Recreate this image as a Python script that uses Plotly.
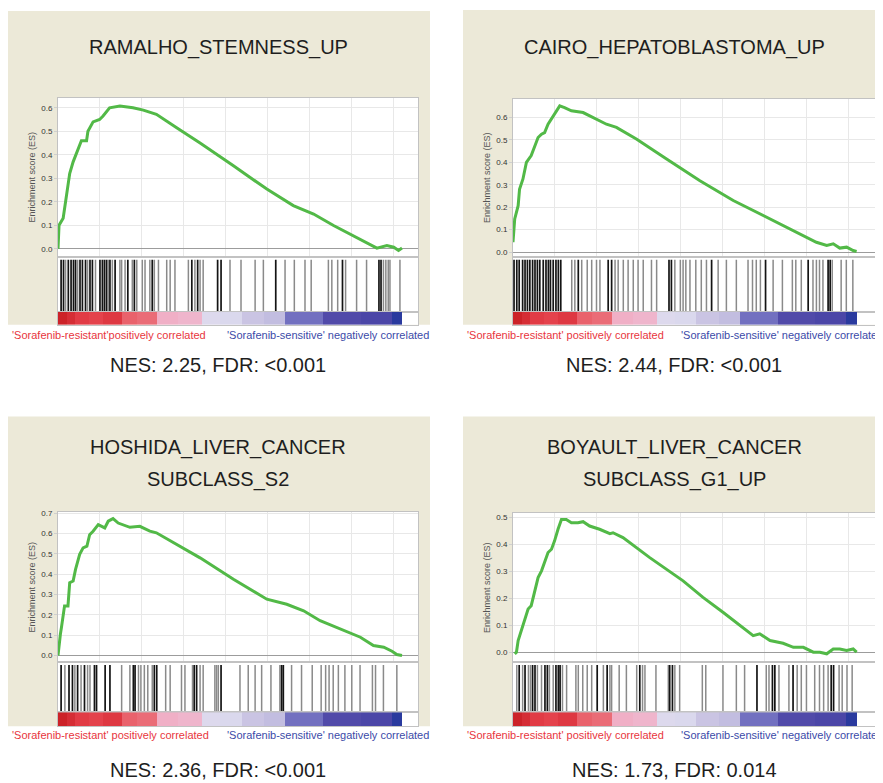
import plotly.graph_objects as go

OFF = 8            # page body margin of the viewing browser
W, H = 883 - OFF, 783 - OFF

# ---------------- data (x = position in ranked gene list, % ) ----------------
TL_x = [0, 0.3, 1.5, 2.4, 3.4, 4.4, 5.8, 6.8, 8.3, 8.7, 10.2, 12.1, 13.1, 15.0, 18.0, 21.8, 24.8,
        28.6, 34.5, 41.3, 51.0, 60.7, 68.4, 74.3, 80.1, 85.9, 90.8, 92.7, 95.6, 97.6, 99.0, 100]
TL_es = [0, 0.10, 0.13, 0.22, 0.32, 0.37, 0.42, 0.46, 0.46, 0.50, 0.54, 0.55, 0.565, 0.60, 0.607, 0.60,
         0.59, 0.572, 0.515, 0.45, 0.353, 0.254, 0.184, 0.148, 0.099, 0.056, 0.017, 0.003, 0.014, 0.007,
         -0.007, 0.003]
TL_hits_dark = [0.9, 1.6, 3.0, 3.8, 4.5, 5.1, 6.4, 7.1, 8.0, 9.3, 10.0, 12.2, 12.9, 13.5, 14.1, 15.1,
                16.6, 20.3, 22.2, 27.4, 38.9, 40.6, 46.4, 47.4, 63.3, 82.7, 93.3, 93.9]
TL_hits_light = [2.2, 5.7, 8.6, 10.9, 14.6, 15.8, 18.0, 18.5, 19.5, 21.6, 22.9, 24.5, 25.3, 26.7, 28.0,
                 29.2, 31.6, 32.6, 34.0, 37.9, 39.8, 41.3, 42.2, 50.0, 53.2, 57.3, 59.7, 66.0, 68.7, 71.8,
                 73.6, 78.6, 79.6, 81.3, 83.6, 86.8, 89.7, 94.6, 95.3, 96.0, 96.5, 99.4]

TR_x = [0, 0.5, 1.5, 1.9, 2.9, 3.9, 5.3, 6.3, 7.3, 8.3, 9.2, 10.2, 11.7, 13.6, 15.0, 17.0, 20.4, 23.3,
        27.2, 30.1, 35.9, 44.7, 54.4, 64.1, 72.8, 77.7, 83.5, 88.3, 91.3, 93.2, 95.1, 97.1, 99.0, 100]
TR_es = [0.044, 0.148, 0.207, 0.28, 0.326, 0.40, 0.43, 0.474, 0.511, 0.526, 0.533, 0.57, 0.607, 0.652,
         0.644, 0.63, 0.622, 0.60, 0.57, 0.556, 0.504, 0.415, 0.318, 0.23, 0.163, 0.126, 0.081, 0.044,
         0.03, 0.037, 0.018, 0.022, 0.007, 0.003]
TR_hits_dark = [0.3, 1.1, 1.8, 2.8, 3.5, 4.2, 4.9, 5.7, 6.4, 7.1, 7.8, 8.8, 9.6, 10.3, 10.9, 11.7, 12.5,
                13.2, 13.9, 19.0, 27.7, 28.7, 45.4, 46.1, 57.8, 73.5, 85.9, 91.7, 92.3]
TR_hits_light = [17.1, 18.0, 20.0, 21.6, 22.9, 24.3, 25.3, 29.7, 30.6, 32.1, 33.5, 35.0, 36.4, 37.9,
                 40.3, 41.8, 47.1, 48.7, 49.5, 50.3, 51.5, 53.2, 54.8, 56.3, 59.7, 62.1, 65.0, 68.4,
                 69.7, 70.8, 72.0, 75.7, 78.4, 81.3, 82.3, 83.9, 87.3, 88.3, 89.2, 90.2, 92.9, 95.5,
                 97.0, 98.9]

BL_x = [0, 0.3, 0.7, 1.0, 1.5, 1.9, 2.4, 2.9, 3.4, 4.4, 5.1, 6.3, 7.3, 8.4, 9.2, 10.2, 11.7, 12.6,
        13.6, 14.6, 16.0, 17.5, 18.9, 20.9, 23.8, 26.7, 28.6, 33.5, 41.3, 51.0, 60.7, 66.5, 71.4,
        76.2, 82.0, 87.9, 91.7, 94.7, 97.1, 98.5, 100]
BL_es = [0, 0.057, 0.106, 0.138, 0.204, 0.244, 0.244, 0.244, 0.358, 0.366, 0.423, 0.497, 0.529, 0.537,
         0.594, 0.611, 0.643, 0.635, 0.627, 0.66, 0.673, 0.651, 0.643, 0.63, 0.635, 0.611, 0.603, 0.554,
         0.48, 0.375, 0.277, 0.252, 0.22, 0.171, 0.13, 0.09, 0.049, 0.041, 0.021, 0.005, 0]
BL_hits_dark = [0.9, 3.2, 4.2, 5.7, 7.7, 10.6, 11.2, 13.7, 15.1, 21.9, 22.4, 28.0, 28.7, 39.6, 40.3,
                47.4, 65.0, 65.5]
BL_hits_light = [2.0, 4.9, 6.7, 8.6, 9.3, 18.5, 20.9, 23.4, 24.1, 25.1, 26.1, 27.4, 31.3, 32.6, 35.9,
                 36.9, 39.1, 41.3, 42.2, 45.6, 46.1, 46.6, 52.9, 55.3, 57.3, 59.2, 61.9, 64.5, 67.9,
                 70.8, 73.9, 76.5, 77.8, 78.8, 80.0, 81.5, 83.4, 85.4, 87.8, 91.4, 92.3, 94.6, 98.5]

BR_x = [0.5, 1.0, 1.5, 2.4, 3.4, 4.4, 5.3, 6.3, 7.3, 8.3, 9.2, 10.2, 11.2, 12.1, 13.1, 14.1, 15.5, 17.0,
        18.9, 20.4, 22.3, 25.2, 28.2, 29.1, 32.0, 39.8, 49.5, 55.3, 61.2, 66.0, 69.9, 71.8, 74.8, 78.6,
        81.6, 84.5, 87.4, 89.3, 91.3, 93.2, 95.1, 97.1, 99.0, 100]
BR_es = [-0.006, 0, 0.043, 0.08, 0.117, 0.16, 0.172, 0.227, 0.276, 0.301, 0.332, 0.369, 0.381, 0.412,
         0.455, 0.491, 0.491, 0.479, 0.479, 0.483, 0.467, 0.455, 0.439, 0.442, 0.424, 0.35, 0.264, 0.203,
         0.147, 0.098, 0.061, 0.068, 0.043, 0.033, 0.018, 0.018, 0, 0, -0.006, 0.012, 0.012, 0.006,
         0.012, 0]
BR_hits_dark = [1.8, 3.5, 5.7, 6.4, 9.3, 10.0, 12.5, 13.2, 13.7, 24.5, 27.4, 36.9, 45.6, 46.4, 71.0,
                75.5, 76.2, 81.5, 92.6, 93.3]
BR_hits_light = [1.1, 2.8, 4.5, 5.1, 7.1, 8.3, 10.6, 11.7, 14.4, 15.6, 18.3, 19.0, 20.3, 21.6, 22.9,
                 26.3, 28.2, 28.7, 30.9, 33.0, 36.0, 37.7, 38.4, 41.6, 45.2, 47.1, 48.5, 55.1, 56.1,
                 61.1, 65.0, 67.4, 73.7, 74.5, 77.4, 80.3, 82.7, 83.9, 85.4, 87.8, 89.2, 90.4, 91.7,
                 94.9, 95.8, 97.2, 98.7]

# ranked list metric (shared ranked list), segment edges in % and metric values
RANK_EDGES = [0, 2.5, 5, 9, 13, 18.5, 23, 28.7, 35, 41.8, 47, 53.4, 60, 66.0, 77.1, 88, 97.0, 100]
RANK_METRIC = [1.0, 0.92, 0.82, 0.78, 0.84, 0.62, 0.58, 0.36, 0.33, 0.06, 0.03, -0.18, -0.22, -0.5,
               -0.74, -0.78, -1.0]

TITLES = [["RAMALHO_STEMNESS_UP"], ["CAIRO_HEPATOBLASTOMA_UP"],
          ["HOSHIDA_LIVER_CANCER", "SUBCLASS_S2"], ["BOYAULT_LIVER_CANCER", "SUBCLASS_G1_UP"]]
NES_TEXT = ["NES: 2.25, FDR: <0.001", "NES: 2.44, FDR: <0.001",
            "NES: 2.36, FDR: <0.001", "NES: 1.73, FDR: 0.014"]
POS_LABELS = ["'Sorafenib-resistant'positively correlated", "'Sorafenib-resistant' positively correlated",
              "'Sorafenib-resistant' positively correlated", "'Sorafenib-resistant' positively correlated"]
NEG_LABEL = "'Sorafenib-sensitive' negatively correlated"

# ---------------- layout geometry (page pixels) ----------------
panels = [
    dict(x=TL_x, es=TL_es, dark=TL_hits_dark, light=TL_hits_light, box=(8, 8, 430, 323),
         left=58, right=418, top=95, es_bot=255, hit_bot=310, cb_bot=323, xmax=104.65,
         yr=[-0.035, 0.643], cx=218, title_y=[45], lab_y=333, red_x=10, blue_x=225, nes_y=363),
    dict(x=TR_x, es=TR_es, dark=TR_hits_dark, light=TR_hits_light, box=(463, 7, 884, 323),
         left=513, right=875, top=96, es_bot=255, hit_bot=310, cb_bot=323, xmax=105.35,
         yr=[-0.022, 0.684], cx=674, title_y=[45], lab_y=333, red_x=465, blue_x=679, nes_y=363),
    dict(x=BL_x, es=BL_es, dark=BL_hits_dark, light=BL_hits_light, box=(8, 415, 430, 726),
         left=58, right=418, top=511, es_bot=662, hit_bot=712, cb_bot=726, xmax=104.65,
         yr=[-0.034, 0.705], cx=218, title_y=[446, 478], lab_y=735, red_x=10, blue_x=225, nes_y=770),
    dict(x=BR_x, es=BR_es, dark=BR_hits_dark, light=BR_hits_light, box=(463, 415, 884, 726),
         left=513, right=875, top=512, es_bot=662, hit_bot=712, cb_bot=726, xmax=105.35,
         yr=[-0.038, 0.515], cx=674, title_y=[446, 478], lab_y=735, red_x=465, blue_x=679, nes_y=770),
]

FONT = "Liberation Sans, Arial, sans-serif"
BEIGE = "#ece9d8"
GREEN = "#52b947"
BORDER = "#c2c2c2"
GRID = "#e8e8e8"

CSCALE = [[0.0, "#2a3a9e"], [0.125, "#5048a8"], [0.25, "#7270c0"], [0.4, "#c8c2e2"],
          [0.525, "#dcdaee"], [0.675, "#f0b2ca"], [0.8, "#ea6670"], [0.9, "#e33e48"], [1.0, "#cc2228"]]


def px(x):
    return (x - OFF) / W


def py(y):
    return 1 - (y - OFF) / H


fig = go.Figure()
layout = dict(width=W, height=H, margin=dict(l=0, r=0, t=0, b=0), showlegend=False,
              paper_bgcolor="white", plot_bgcolor="rgba(0,0,0,0)", font=dict(family=FONT))
shapes, annotations = [], []


def vlines(xs, y0, y1):
    xx, yy = [], []
    for v in xs:
        xx += [v, v, None]
        yy += [y0, y1, None]
    return xx, yy


def ax(n):
    return "" if n == 1 else str(n)


for i, p in enumerate(panels):
    a_es, a_hit, a_cb = 3 * i + 1, 3 * i + 2, 3 * i + 3

    xdom = [px(p["left"]), min(1.0, px(p["right"]))]
    b = p["box"]
    shapes.append(dict(type="rect", xref="paper", yref="paper", x0=px(b[0]), x1=min(1.0, px(b[2])),
                       y0=py(b[3]), y1=py(b[1]), fillcolor=BEIGE, line_width=0, layer="below"))
    shapes.append(dict(type="rect", xref="paper", yref="paper", x0=px(p["left"]), x1=px(p["right"]),
                       y0=py(p["cb_bot"]), y1=py(p["top"]), fillcolor="white", line_width=0, layer="below"))

    common_x = dict(domain=xdom, range=[0, p["xmax"]], showticklabels=False, ticks="", zeroline=False,
                    showline=True, linecolor=BORDER, linewidth=1, mirror=True, fixedrange=True)
    layout["xaxis" + ax(a_es)] = dict(common_x, showgrid=True, gridcolor=GRID, gridwidth=1, tick0=0,
                                      dtick=12.2, anchor="y" + ax(a_es))
    layout["xaxis" + ax(a_hit)] = dict(common_x, showgrid=False, anchor="y" + ax(a_hit))
    layout["xaxis" + ax(a_cb)] = dict(common_x, showgrid=False, anchor="y" + ax(a_cb))

    layout["yaxis" + ax(a_es)] = dict(domain=[py(p["es_bot"]), py(p["top"])], range=p["yr"],
                                      tickmode="linear", tick0=0, dtick=0.1, tickformat=".1f",
                                      tickfont=dict(size=8, color="#333"), ticks="outside", ticklen=3,
                                      tickcolor="#cfcfcf",
                                      showgrid=True, gridcolor=GRID, zeroline=True, zerolinecolor="#9c9c9c",
                                      zerolinewidth=1, showline=True, linecolor=BORDER, mirror=True,
                                      title=dict(text="Enrichment score (ES)", font=dict(size=9, color="#555"),
                                                 standoff=4),
                                      anchor="x" + ax(a_es), fixedrange=True)
    layout["yaxis" + ax(a_hit)] = dict(domain=[py(p["hit_bot"]), py(p["es_bot"])], range=[0, 1],
                                       showticklabels=False, showgrid=False, zeroline=False, ticks="",
                                       showline=True, linecolor=BORDER, mirror=True,
                                       anchor="x" + ax(a_hit), fixedrange=True)
    layout["yaxis" + ax(a_cb)] = dict(domain=[py(p["cb_bot"]), py(p["hit_bot"])], range=[0, 1],
                                      showticklabels=False, showgrid=False, zeroline=False, ticks="",
                                      showline=True, linecolor=BORDER, mirror=True,
                                      anchor="x" + ax(a_cb), fixedrange=True)

    fig.add_trace(go.Scatter(x=p["x"], y=p["es"], mode="lines", line=dict(color=GREEN, width=3),
                             xaxis="x" + ax(a_es), yaxis="y" + ax(a_es), hoverinfo="skip"))
    lx, ly = vlines(p["light"], 0, 0.95)
    fig.add_trace(go.Scatter(x=lx, y=ly, mode="lines", line=dict(color="#8a8a8a", width=1.5),
                             xaxis="x" + ax(a_hit), yaxis="y" + ax(a_hit), hoverinfo="skip"))
    dx, dy = vlines(p["dark"], 0, 0.95)
    fig.add_trace(go.Scatter(x=dx, y=dy, mode="lines", line=dict(color="#141414", width=1.7),
                             xaxis="x" + ax(a_hit), yaxis="y" + ax(a_hit), hoverinfo="skip"))
    fig.add_trace(go.Heatmap(z=[RANK_METRIC], x=RANK_EDGES, y=[0, 1], colorscale=CSCALE, zmin=-1, zmax=1,
                             showscale=False, xaxis="x" + ax(a_cb), yaxis="y" + ax(a_cb), hoverinfo="skip"))

    for t, ty in zip(TITLES[i], p["title_y"]):
        annotations.append(dict(text=t, x=px(p["cx"]), y=py(ty), xref="paper", yref="paper",
                                xanchor="center", yanchor="middle", showarrow=False,
                                font=dict(size=20, color="#1e1e1e", family=FONT)))
    annotations.append(dict(text=POS_LABELS[i], x=px(p["red_x"]), y=py(p["lab_y"]), xref="paper",
                            yref="paper", xanchor="left", yanchor="middle", showarrow=False,
                            font=dict(size=11, color="#e8353d", family=FONT)))
    annotations.append(dict(text=NEG_LABEL, x=px(p["blue_x"]), y=py(p["lab_y"]), xref="paper",
                            yref="paper", xanchor="left", yanchor="middle", showarrow=False,
                            font=dict(size=11, color="#3b4aa8", family=FONT)))
    annotations.append(dict(text=NES_TEXT[i], x=px(p["cx"]), y=py(p["nes_y"]), xref="paper",
                            yref="paper", xanchor="center", yanchor="middle", showarrow=False,
                            font=dict(size=20, color="#1e1e1e", family=FONT)))

layout["shapes"] = shapes
layout["annotations"] = annotations
fig.update_layout(**layout)
fig.write_html("out.html")
